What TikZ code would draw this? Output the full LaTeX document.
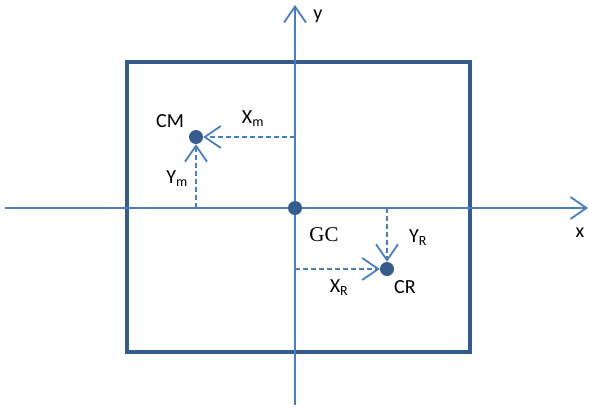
\documentclass[tikz,border=0pt]{standalone}
\usepackage{fontspec}
\setmainfont{Carlito}
\newfontfamily\serifgc{Liberation Serif}
\usetikzlibrary{arrows.meta}
\definecolor{axisblue}{RGB}{74,126,187}
\definecolor{darkblue}{RGB}{54,92,142}
\tikzset{
  axis/.style={draw=axisblue, line width=1.8pt, -{Straight Barb[length=16pt,width=22pt,line width=1.8pt]}},
  dim/.style={draw=axisblue, line width=1.8pt, dash pattern=on 5pt off 3pt, -{Straight Barb[length=16pt,width=22pt,line width=1.8pt]}},
  dot/.style={circle, fill=darkblue, inner sep=0pt, minimum size=14pt},
  lbl/.style={font=\fontsize{20}{23}\selectfont, inner sep=0pt},
}
\begin{document}
\begin{tikzpicture}[x=1pt,y=-1pt]
\useasboundingbox (0,0) rectangle (589,407);
% frame
\draw[darkblue, line width=4pt] (127,62) rectangle (470,352);
% axes
\coordinate (xs) at (5,208);
\coordinate (xe) at (588,208);
\coordinate (ys) at (295,405);
\coordinate (ye) at (295,5);
\draw[axis] (xs) -- (xe);
\draw[axis] (ys) -- (ye);
% points
\node[dot] (gc) at (295,208) {};
\node[dot] (cm) at (196,137) {};
\node[dot] (cr) at (387,269) {};
% dimension lines
\coordinate (xm0) at (295,137);
\coordinate (ym0) at (196,208);
\coordinate (yr0) at (387,208);
\coordinate (xr0) at (295,269);
\draw[dim] (xm0) -- (cm);
\draw[dim] (ym0) -- (cm);
\draw[dim] (yr0) -- (cr);
\draw[dim] (xr0) -- (cr);
% labels
\node[lbl] (tcm) at (170,121) {CM};
\node[lbl] (txm) at (253,119) {X\textsubscript{m}};
\node[lbl] (tym) at (177,179) {Y\textsubscript{m}};
\node[lbl, font=\serifgc\fontsize{21}{24}\selectfont] (tgc) at (324,235) {GC};
\node[lbl] (tyr) at (418,238) {Y\textsubscript{R}};
\node[lbl] (txr) at (339,288) {X\textsubscript{R}};
\node[lbl] (tcr) at (405,287) {CR};
\node[lbl] (ty) at (318,16) {y};
\node[lbl] (tx) at (580,233) {x};
\end{tikzpicture}
\end{document}
